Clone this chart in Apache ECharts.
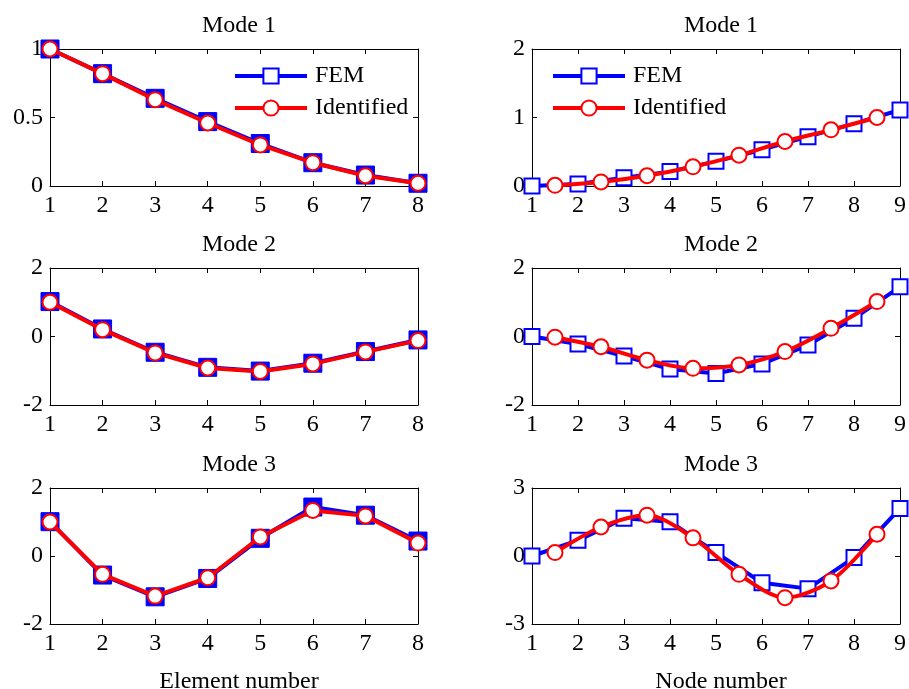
<!DOCTYPE html>
<html>
<head>
<meta charset="utf-8">
<script src="https://cdn.jsdelivr.net/npm/echarts@6/dist/echarts.min.js"></script>
<style>
  html, body { margin: 0; padding: 0; background: #fff; }
  #chart { width: 909px; height: 689px; }
</style>
</head>
<body>
<div id="chart"></div>
<script>
// x positions
const elements = [1, 2, 3, 4, 5, 6, 7, 8];
const nodes = [1, 2, 3, 4, 5, 6, 7, 8, 9];
const midNodes = [1.5, 2.5, 3.5, 4.5, 5.5, 6.5, 7.5, 8.5];

// element mode shapes (left column)
const elemFem1 = [1.0, 0.82, 0.64, 0.47, 0.31, 0.17, 0.08, 0.02];
const elemIdf1 = [1.0, 0.82, 0.63, 0.46, 0.30, 0.17, 0.075, 0.02];
const elemFem2 = [1.02, 0.22, -0.46, -0.9, -1.01, -0.78, -0.44, -0.1];
const elemIdf2 = [1.0, 0.2, -0.48, -0.92, -1.02, -0.8, -0.45, -0.12];
const elemFem3 = [1.01, -0.56, -1.2, -0.66, 0.52, 1.44, 1.2, 0.44];
const elemIdf3 = [1.0, -0.54, -1.18, -0.64, 0.56, 1.34, 1.18, 0.38];

// node mode shapes (right column)
const nodeFem1 = [0, 0.03, 0.12, 0.21, 0.36, 0.53, 0.72, 0.91, 1.11];
const nodeIdf1 = [0.01, 0.06, 0.15, 0.28, 0.45, 0.65, 0.82, 1.0];
const nodeFem2 = [0, -0.22, -0.57, -0.95, -1.08, -0.8, -0.25, 0.53, 1.45];
const nodeIdf2 = [-0.02, -0.3, -0.69, -0.93, -0.83, -0.44, 0.24, 1.02];
const nodeFem3 = [0, 0.69, 1.66, 1.51, 0.15, -1.18, -1.44, -0.07, 2.1];
const nodeIdf3 = [0.15, 1.28, 1.8, 0.8, -0.81, -1.84, -1.1, 0.96];

// y axis ranges per panel: [min, max, interval]
const leftRanges = [[0, 1, 0.5], [-2, 2, 2], [-2, 2, 2]];
const rightRanges = [[0, 2, 1], [-2, 2, 2], [-3, 3, 3]];
const modeTitles = ['Mode 1', 'Mode 2', 'Mode 3'];

const FONT = 'Liberation Serif';
const FS = 24;
const BLUE = '#0000ff';
const RED = '#ff0000';

const rowTops = [49, 268, 488];
const rowHeights = [137, 137, 136];
const colLefts = [50, 532];
const colWidth = 368;

const grids = [], xAxes = [], yAxes = [], series = [], titles = [];

function addPanel(col, row, xMax, yr) {
  const gi = grids.length;
  grids.push({
    left: colLefts[col], top: rowTops[row], width: colWidth, height: rowHeights[row],
    containLabel: false
  });
  const tick = { show: true, inside: true, length: 5, lineStyle: { color: '#000', width: 1 } };
  const line = { show: true, onZero: false, lineStyle: { color: '#000', width: 1 } };
  xAxes.push({
    gridIndex: gi, type: 'value', position: 'bottom', min: 1, max: xMax, interval: 1,
    axisLine: line, axisTick: tick, splitLine: { show: false },
    axisLabel: { color: '#000', fontFamily: FONT, fontSize: FS, margin: 8 }
  });
  xAxes.push({
    gridIndex: gi, type: 'value', position: 'top', min: 1, max: xMax, interval: 1,
    axisLine: line, axisTick: tick, splitLine: { show: false }, axisLabel: { show: false }
  });
  yAxes.push({
    gridIndex: gi, type: 'value', position: 'left', min: yr[0], max: yr[1], interval: yr[2],
    axisLine: line, axisTick: tick, splitLine: { show: false },
    axisLabel: { color: '#000', fontFamily: FONT, fontSize: FS, margin: 7 }
  });
  yAxes.push({
    gridIndex: gi, type: 'value', position: 'right', min: yr[0], max: yr[1], interval: yr[2],
    axisLine: line, axisTick: tick, splitLine: { show: false }, axisLabel: { show: false }
  });
  titles.push({
    text: modeTitles[row],
    left: colLefts[col] + colWidth / 2, top: rowTops[row] - 40, textAlign: 'center',
    textStyle: { fontFamily: FONT, fontSize: FS, fontWeight: 'normal', color: '#000' }
  });
  return gi;
}

const zip = (xs, ys) => xs.map((x, i) => [x, ys[i]]);

const nodeFem = [nodeFem1, nodeFem2, nodeFem3];
const nodeIdf = [nodeIdf1, nodeIdf2, nodeIdf3];
const elemFem = [elemFem1, elemFem2, elemFem3];
const elemIdf = [elemIdf1, elemIdf2, elemIdf3];

// right column first so legend picks the hollow square style
for (let r = 0; r < 3; r++) {
  const gi = addPanel(1, r, 9, rightRanges[r]);
  series.push({
    name: 'FEM', type: 'line', xAxisIndex: gi * 2, yAxisIndex: gi * 2,
    data: zip(nodes, nodeFem[r]), symbol: 'emptyRect', symbolSize: 15,
    lineStyle: { color: BLUE, width: 4 },
    itemStyle: { color: BLUE, borderColor: BLUE, borderWidth: 3.5 }, z: 2
  });
  series.push({
    name: 'Identified', type: 'line', xAxisIndex: gi * 2, yAxisIndex: gi * 2,
    data: zip(midNodes, nodeIdf[r]), symbol: 'emptyCircle', symbolSize: 15, smooth: 0.3,
    lineStyle: { color: RED, width: 4 },
    itemStyle: { color: RED, borderColor: RED, borderWidth: 3.5 }, z: 3
  });
}
for (let r = 0; r < 3; r++) {
  const gi = addPanel(0, r, 8, leftRanges[r]);
  series.push({
    name: 'FEM', type: 'line', xAxisIndex: gi * 2, yAxisIndex: gi * 2,
    data: zip(elements, elemFem[r]), symbol: 'rect', symbolSize: 18,
    lineStyle: { color: BLUE, width: 4 },
    itemStyle: { color: BLUE, borderColor: BLUE, borderWidth: 1 }, z: 2
  });
  series.push({
    name: 'Identified', type: 'line', xAxisIndex: gi * 2, yAxisIndex: gi * 2,
    data: zip(elements, elemIdf[r]), symbol: 'emptyCircle', symbolSize: 15,
    lineStyle: { color: RED, width: 4 },
    itemStyle: { color: RED, borderColor: RED, borderWidth: 3.5 }, z: 3
  });
}

const legendBase = {
  orient: 'vertical', top: 59, itemWidth: 72, itemHeight: 19, itemGap: 8,
  data: ['FEM', 'Identified'], selectedMode: false,
  lineStyle: { width: 4 },
  itemStyle: { borderWidth: 3 },
  textStyle: { fontFamily: FONT, fontSize: FS, color: '#000', padding: [0, 0, 0, 3] }
};

const chart = echarts.init(document.getElementById('chart'), null, { renderer: 'canvas' });
chart.setOption({
  backgroundColor: '#fff',
  animation: false,
  title: titles.concat([
    { text: 'Element number', left: 234, top: 665, textAlign: 'center',
      textStyle: { fontFamily: FONT, fontSize: FS, fontWeight: 'normal', color: '#000' } },
    { text: 'Node number', left: 716, top: 665, textAlign: 'center',
      textStyle: { fontFamily: FONT, fontSize: FS, fontWeight: 'normal', color: '#000' } }
  ]),
  legend: [
    Object.assign({}, legendBase, { left: 228 }),
    Object.assign({}, legendBase, { left: 546 })
  ],
  grid: grids,
  xAxis: xAxes,
  yAxis: yAxes,
  series: series
});
</script>
</body>
</html>
